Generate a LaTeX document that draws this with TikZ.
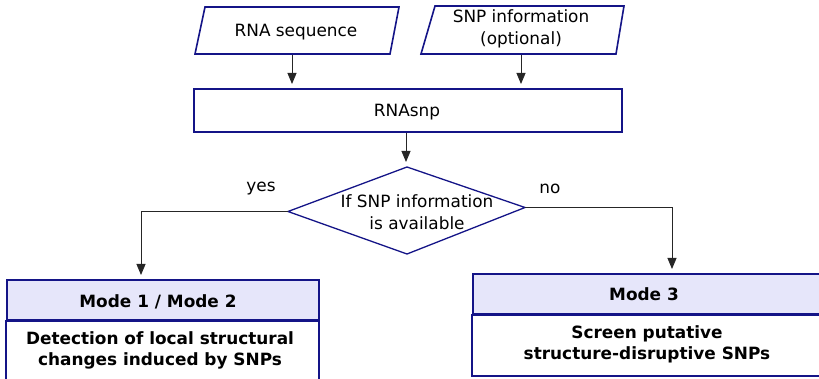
\documentclass[tikz,border=0pt]{standalone}
\usepackage{fontspec}
\setmainfont{DejaVu Sans}
\usetikzlibrary{arrows.meta}
\definecolor{navy}{RGB}{20,20,135}
\definecolor{lav}{RGB}{230,230,250}
\begin{document}
\begin{tikzpicture}[x=1pt,y=-1pt,
  shapeline/.style={draw=navy,line width=1.6pt},
  conn/.style={draw=black!85,line width=0.9pt,-{Triangle[length=11pt,width=9pt]}},
  txt/.style={font=\fontsize{16.9}{21.5}\selectfont,align=center,inner sep=0pt},
  btxt/.style={font=\fontsize{16.9}{21.5}\selectfont\bfseries,align=center,inner sep=0pt}]
\useasboundingbox (0,0) rectangle (819,379);
% inputs
\draw[shapeline] (205,7) -- (399,7) -- (390,54) -- (195,54) -- cycle;
\node[txt] (seq) at (296,32.5) {RNA sequence};
\draw[shapeline] (435,6) -- (624,6) -- (616,54) -- (421,54) -- cycle;
\node[txt] (snp) at (521,29) {SNP information\\(optional)};
\coordinate (seqb) at (292,55);
\coordinate (snpb) at (521,55);
% tool
\node[shapeline,minimum width=428pt,minimum height=43pt] (tool) at (408,110.5) {};
\node[txt] (toollbl) at (407,112.5) {RNAsnp};
\coordinate (seqe) at (292,84);
\coordinate (snpe) at (521,84);
\draw[conn] (seqb) -- (seqe);
\draw[conn] (snpb) -- (snpe);
% decision
\coordinate (dt) at (407,167);
\coordinate (dr) at (525,207.5);
\coordinate (db) at (407,254);
\coordinate (dl) at (288,211.5);
\draw[shapeline,line width=1.3pt] (dt) -- (dr) -- (db) -- (dl) -- cycle;
\node[txt] (dec) at (417,212) {If SNP information\\is available};
\coordinate (dte) at (406,162);
\draw[conn] (tool.south -| dte) -- (dte);
\node[txt] (yes) at (261,189) {yes};
\node[txt] (no) at (550,189) {no};
% outcome boxes
\coordinate (le) at (141,275);
\coordinate (re) at (672,269);
\draw[conn] (dl) -| (le);
\draw[conn] (dr) -| (re);
\node[shapeline,fill=lav,minimum width=312pt,minimum height=40pt] (m12) at (163,300) {};
\node[btxt] (m12lbl) at (158,302) {Mode 1 / Mode 2};
\draw[shapeline] (m12.south west) rectangle (319,392);
\node[btxt] (m12b) at (160,350.5) {Detection of local structural\\changes induced by SNPs};
\node[shapeline,fill=lav,minimum width=347pt,minimum height=40pt] (m3) at (646.5,294) {};
\node[btxt] (m3lbl) at (644,294.5) {Mode 3};
\draw[shapeline] (m3.south west) rectangle (820,376);
\node[btxt] (m3b) at (647,344.5) {Screen putative\\structure-disruptive SNPs};
\end{tikzpicture}
\end{document}
